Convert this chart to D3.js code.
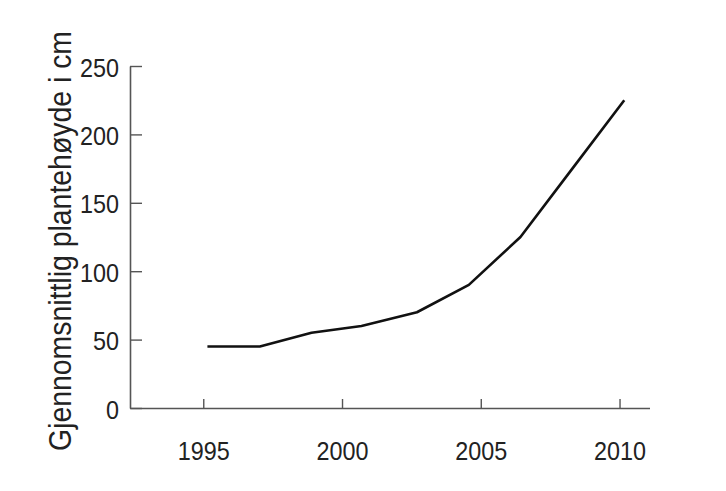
<!DOCTYPE html>
<html>
<head>
<meta charset="utf-8">
<script src="https://cdn.jsdelivr.net/npm/d3@7"></script>
<style>
  body { margin: 0; background: #fff; }
  svg { display: block; font-family: "Liberation Sans", Arial, sans-serif; }
</style>
</head>
<body>
<svg width="726" height="491"></svg>
<script>
// verdier lest av figuren
const years = [1995.15, 1997.04, 1998.9, 2000.7, 2002.7, 2004.57, 2006.43, 2008.3, 2010.17];
const heights = [45, 45, 55, 60, 70, 90, 125, 175, 225];
const xTicks = [1995, 2000, 2005, 2010];
const yTicks = [0, 50, 100, 150, 200, 250];
const yTitle = "Gjennomsnittlig plantehøyde i cm";

const data = years.map((yr, i) => ({ year: yr, h: heights[i] }));

const svg = d3.select("svg");

const x = d3.scaleLinear()
  .domain([1992.36, 2011.08])
  .range([130, 649.5]);

const y = d3.scaleLinear()
  .domain([0, 250])
  .range([408, 66]);

const axisColor = "#555";

const xAxis = d3.axisBottom(x)
  .tickValues(xTicks)
  .tickFormat(d3.format("d"))
  .tickSizeInner(-9)
  .tickSizeOuter(0)
  .tickPadding(34);

const yAxis = d3.axisLeft(y)
  .tickValues(yTicks)
  .tickSizeInner(-12)
  .tickSizeOuter(0)
  .tickPadding(11);

const gx = svg.append("g")
  .attr("transform", `translate(0,${y(0)})`)
  .call(xAxis);

const gy = svg.append("g")
  .attr("transform", `translate(${x.range()[0]},0)`)
  .call(yAxis);

[gx, gy].forEach(g => {
  g.select(".domain").attr("stroke", axisColor).attr("stroke-width", 1.6);
  g.selectAll(".tick line").attr("stroke", axisColor).attr("stroke-width", 1.4);
  g.selectAll(".tick text")
    .attr("fill", "#222")
    .style("font-size", "25px")
    .style("font-family", "'Liberation Sans', Arial, sans-serif")
    // skriften i originalen er litt smalere
    .attr("textLength", d => String(d).length * 13)
    .attr("lengthAdjust", "spacingAndGlyphs");
});
gy.selectAll(".tick text").attr("dy", "0.40em");

// tittel på y-aksen
svg.append("text")
  .attr("transform", `translate(71,241) rotate(-90)`)
  .attr("text-anchor", "middle")
  .attr("fill", "#222")
  .style("font-size", "31px")
  .attr("textLength", 420)
  .attr("lengthAdjust", "spacingAndGlyphs")
  .text(yTitle);

const line = d3.line()
  .x(d => x(d.year))
  .y(d => y(d.h));

svg.append("path")
  .datum(data)
  .attr("fill", "none")
  .attr("stroke", "#111")
  .attr("stroke-width", 2.6)
  .attr("stroke-linejoin", "round")
  .attr("d", line);
</script>
</body>
</html>
